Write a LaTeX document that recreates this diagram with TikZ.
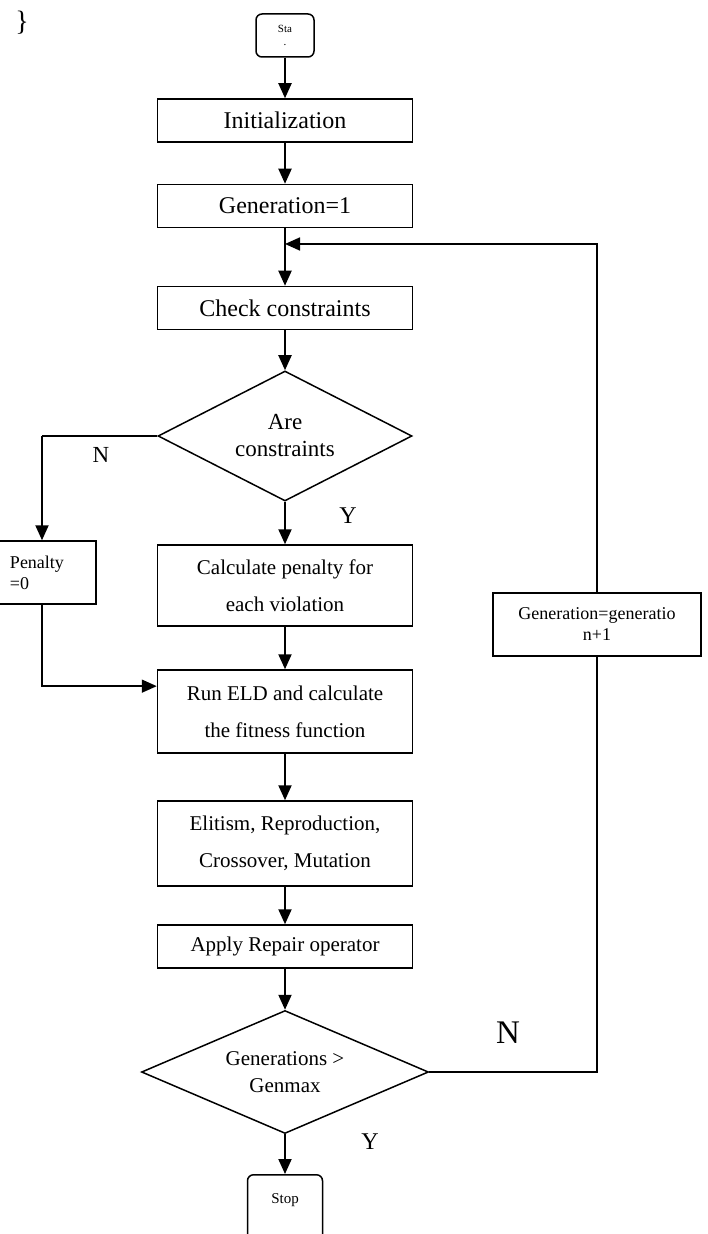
\documentclass[tikz,border=0pt]{standalone}
\usepackage{fontspec}
\setmainfont{Liberation Serif}
\usetikzlibrary{calc,positioning,arrows.meta,shapes.geometric}

\begin{document}
\begin{tikzpicture}[x=0.5pt,y=-0.5pt,
  proc/.style={draw,line width=0.75pt,minimum width=127.5pt,minimum height=21.5pt,inner sep=0pt,align=center,font=\fontsize{12}{14}\selectfont},
  proc2/.style={proc,minimum height=41.5pt,font=\fontsize{10.5}{18.5}\selectfont},
  decis/.style={draw,diamond,line width=0.75pt,inner sep=0pt,align=center},
  term/.style={draw,rounded corners=3pt,line width=0.75pt,inner sep=0pt,align=center},
  side/.style={draw,line width=0.75pt,inner sep=0pt,font=\fontsize{9}{10.5}\selectfont},
  flow/.style={-{Triangle[length=7.5pt,width=6.5pt]},line width=1pt},
  conn/.style={line width=0.7pt},
  lbl/.style={font=\fontsize{12}{14}\selectfont}]
  \useasboundingbox (0,0) rectangle (707,1234);
  \node[font=\fontsize{14}{16}\selectfont] (brace) at (22,23) {\}};
  % hlavni sloupec
  \node[term,minimum width=29pt,minimum height=21.5pt,font=\fontsize{5.5}{6.5}\selectfont] (start) at (285,35.5) {Sta\\.};
  \node[proc] (init) at (285,120.5) {Initialization};
  \node[proc] (gen1) at (285,206) {Generation=1};
  \node[proc] (check) at (285,308) {Check constraints};
  \node[decis,aspect=1.95,minimum width=127pt,minimum height=65pt,font=\fontsize{11.5}{13.5}\selectfont] (cons) at (285,436) {Are\\constraints};
  \node[proc2,minimum height=40.5pt] (calc) at (285,585.5) {Calculate penalty for\\each violation};
  \node[proc2] (run) at (285,711.5) {Run ELD and calculate\\the fitness function};
  \node[proc2,minimum height=42.5pt] (elit) at (285,843.5) {Elitism, Reproduction,\\Crossover, Mutation};
  \node[proc,font=\fontsize{10.5}{12}\selectfont] (rep) at (285,946.5) {Apply Repair operator};
  \node[decis,aspect=2.33,minimum width=143.5pt,minimum height=61.5pt,font=\fontsize{10.5}{13.5}\selectfont] (gmax) at (285,1072) {Generations >\\Genmax};
  \node[term,anchor=north,minimum width=37.5pt,text height=14.5pt,text depth=23.5pt,font=\fontsize{7.5}{9}\selectfont] (stop) at (285,1174) {Stop};
  % vedlejsi bloky
  \node[side,minimum width=54pt,minimum height=31.5pt,text width=32pt,inner xsep=11pt,align=left] (pen) at (42,572.5) {Penalty\\=0};
  \node[side,minimum width=104pt,minimum height=31.5pt,align=center] (gnext) at (597,624.5) {Generation=generatio\\n+1};
  % sipky
  \draw[flow] (start) -- (init);
  \draw[flow] (init) -- (gen1);
  \draw[flow] (gen1) -- (check);
  \draw[flow] (check) -- (cons);
  \draw[flow] (cons) -- (calc);
  \draw[flow] (calc) -- (run);
  \draw[flow] (run) -- (elit);
  \draw[flow] (elit) -- (rep);
  \draw[flow] (rep) -- (gmax);
  \draw[flow] (gmax) -- (stop);
  % vetev N: penalizace
  \coordinate (ncorner) at (pen.north |- cons.west);
  \draw[conn] (cons.west) -- (ncorner);
  \draw[flow] (ncorner) -- (pen.north);
  \draw[flow,line width=0.8pt] (pen.south) |- ($(run.north west)!.2!(run.south west)$);
  % smycka generaci
  \coordinate (join) at (285,244);
  \draw[conn] (gmax.east) -| (gnext.south);
  \draw[flow,line width=0.85pt] (gnext.north) |- (join);
  % popisky
  \node[lbl,font=\fontsize{11.5}{13}\selectfont] (nleft) at (101,455) {N};
  \node[lbl] (yup) at (348,516) {Y};
  \node[lbl,font=\fontsize{16.5}{18}\selectfont] (nright) at (508,1033) {N};
  \node[lbl] (ydown) at (370,1142) {Y};
\end{tikzpicture}
\end{document}
